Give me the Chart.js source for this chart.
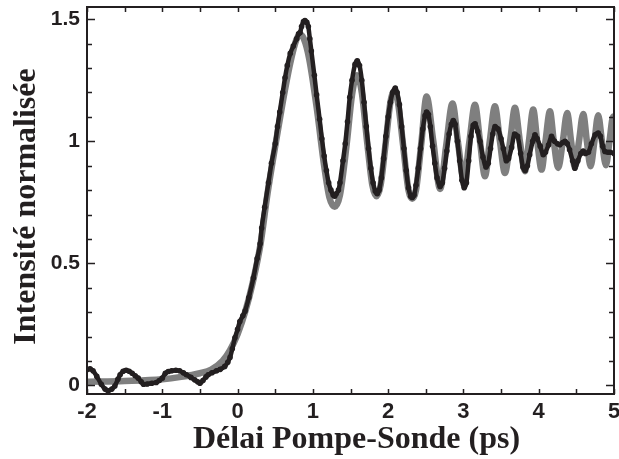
<!DOCTYPE html>
<html>
<head>
<meta charset="utf-8">
<title>Intensité normalisée</title>
<script src="https://cdn.jsdelivr.net/npm/chart.js@4.4.1/dist/chart.umd.min.js"></script>
<style>
  body { margin: 0; background: #fff; }
</style>
</head>
<body>
<canvas id="pumpProbeChart" width="619" height="459"></canvas>
<script>
const dataT = [-2.00, -1.96, -1.92, -1.87, -1.81, -1.76, -1.72, -1.67, -1.63, -1.59, -1.56, -1.52, -1.48, -1.44, -1.40,
  -1.36, -1.32, -1.28, -1.25, -1.20, -1.14, -1.08, -1.04, -1.00, -0.96, -0.92, -0.875, -0.82, -0.77, -0.72,
  -0.68, -0.62, -0.57, -0.53, -0.50, -0.46, -0.42, -0.39, -0.34, -0.28, -0.23, -0.17, -0.13, -0.10, -0.07,
  -0.035, 0.00, 0.03, 0.07, 0.10, 0.15, 0.21, 0.26, 0.30, 0.32, 0.36, 0.41, 0.45, 0.50, 0.53,
  0.56, 0.60, 0.63, 0.66, 0.70, 0.74, 0.785, 0.81, 0.83, 0.85, 0.875, 0.895, 0.92, 0.94, 0.96,
  0.98, 1.02, 1.05, 1.09, 1.12, 1.15, 1.18, 1.21, 1.24, 1.27, 1.29, 1.31, 1.34, 1.36, 1.40,
  1.43, 1.46, 1.49, 1.52, 1.56, 1.59, 1.62, 1.65, 1.68, 1.71, 1.74, 1.77, 1.80, 1.83, 1.855,
  1.88, 1.91, 1.94, 1.97, 2.00, 2.03, 2.06, 2.095, 2.12, 2.15, 2.18, 2.21, 2.24, 2.27, 2.30,
  2.32, 2.345, 2.37, 2.40, 2.43, 2.46, 2.49, 2.51, 2.535, 2.56, 2.59, 2.62, 2.65, 2.69, 2.72,
  2.75, 2.78, 2.81, 2.84, 2.865, 2.89, 2.92, 2.95, 2.98, 3.01, 3.04, 3.07, 3.10, 3.13, 3.155,
  3.19, 3.22, 3.26, 3.30, 3.33, 3.36, 3.39, 3.42, 3.46, 3.50, 3.53, 3.57, 3.60, 3.64, 3.68,
  3.72, 3.76, 3.79, 3.82, 3.85, 3.88, 3.92, 3.95, 3.98, 4.02, 4.06, 4.09, 4.13, 4.17, 4.21,
  4.25, 4.28, 4.32, 4.35, 4.38, 4.41, 4.45, 4.48, 4.52, 4.56, 4.59, 4.62, 4.66, 4.70, 4.75,
  4.79, 4.82, 4.85, 4.88, 4.92, 4.95, 5.00, 5.03];
const dataI = [0.065, 0.068, 0.060, 0.037, 0.005, -0.015, -0.022, -0.015, -0.002, 0.025, 0.044, 0.058, 0.062, 0.058, 0.050,
  0.040, 0.030, 0.015, 0.005, 0.006, 0.009, 0.012, 0.020, 0.030, 0.050, 0.057, 0.060, 0.062, 0.060, 0.052,
  0.044, 0.033, 0.023, 0.015, 0.009, 0.020, 0.035, 0.044, 0.052, 0.060, 0.066, 0.078, 0.095, 0.115, 0.150,
  0.195, 0.230, 0.262, 0.285, 0.305, 0.360, 0.440, 0.520, 0.580, 0.645, 0.730, 0.830, 0.910, 0.990, 1.060,
  1.120, 1.200, 1.260, 1.310, 1.360, 1.390, 1.420, 1.440, 1.445, 1.470, 1.490, 1.495, 1.487, 1.470, 1.420,
  1.370, 1.270, 1.190, 1.090, 1.010, 0.940, 0.880, 0.830, 0.800, 0.780, 0.775, 0.785, 0.800, 0.830, 0.920,
  0.990, 1.080, 1.180, 1.250, 1.315, 1.330, 1.310, 1.250, 1.160, 1.060, 0.970, 0.890, 0.830, 0.795, 0.785,
  0.800, 0.850, 0.930, 1.020, 1.100, 1.160, 1.200, 1.218, 1.200, 1.150, 1.060, 0.970, 0.880, 0.810, 0.775,
  0.770, 0.780, 0.820, 0.890, 0.970, 1.050, 1.105, 1.120, 1.110, 1.060, 0.980, 0.910, 0.850, 0.815, 0.830,
  0.890, 0.960, 1.030, 1.070, 1.085, 1.070, 1.000, 0.920, 0.840, 0.810, 0.830, 0.920, 1.020, 1.065, 1.072,
  1.040, 1.000, 0.935, 0.895, 0.910, 0.970, 1.030, 1.060, 1.050, 1.010, 0.970, 0.920, 0.930, 0.975, 1.030,
  1.020, 0.950, 0.895, 0.880, 0.900, 0.945, 1.000, 1.027, 1.010, 0.980, 0.945, 0.955, 0.985, 1.020, 1.000,
  0.990, 0.986, 0.995, 1.000, 0.990, 0.965, 0.920, 0.890, 0.920, 0.950, 0.960, 0.950, 0.955, 0.990, 1.027,
  1.034, 1.020, 0.980, 0.958, 0.955, 0.955, 0.950, 0.945];

// fitted curve (grey) at its turning points
const fitT = [-2.00, -1.50, -1.00, -0.75, -0.50, -0.35, -0.20, -0.10, 0.00, 0.10, 0.20, 0.30, 0.40, 0.50, 0.60,
  0.70, 0.78, 0.83, 0.88, 0.95, 1.05, 1.15, 1.22, 1.29, 1.36, 1.45, 1.52, 1.585, 1.65, 1.72,
  1.79, 1.845, 1.90, 1.97, 2.03, 2.08, 2.13, 2.20, 2.27, 2.32, 2.37, 2.44, 2.51, 2.60, 2.69,
  2.77, 2.855, 2.93, 3.005, 3.08, 3.153, 3.22, 3.286, 3.35, 3.418, 3.485, 3.551, 3.62, 3.684, 3.75,
  3.817, 3.87, 3.927, 3.98, 4.038, 4.09, 4.149, 4.20, 4.259, 4.32, 4.378, 4.43, 4.481, 4.535, 4.591,
  4.64, 4.689, 4.74, 4.790, 4.84, 4.893, 4.94, 4.990, 5.03];
const fitI = [0.015, 0.018, 0.025, 0.035, 0.050, 0.065, 0.100, 0.145, 0.210, 0.300, 0.420, 0.570, 0.790, 0.980, 1.160,
  1.320, 1.415, 1.437, 1.420, 1.340, 1.140, 0.900, 0.770, 0.732, 0.780, 0.990, 1.190, 1.270, 1.200, 1.000,
  0.820, 0.775, 0.820, 1.000, 1.160, 1.205, 1.160, 0.980, 0.800, 0.765, 0.800, 0.990, 1.183, 1.000, 0.805,
  0.980, 1.155, 0.990, 0.845, 1.000, 1.150, 1.000, 0.857, 1.000, 1.143, 1.000, 0.870, 1.000, 1.137, 1.000,
  0.877, 1.000, 1.130, 1.000, 0.884, 1.000, 1.123, 1.000, 0.891, 1.000, 1.116, 1.000, 0.893, 1.000, 1.112,
  1.000, 0.898, 1.000, 1.107, 1.000, 0.902, 1.000, 1.102, 1.040];

// axis ticks and titles
const xTickValues = [-2, -1, 0, 1, 2, 3, 4, 5];
const xTickLabels = ['-2', '-1', '0', '1', '2', '3', '4', '5'];
const yTickValues = [0, 0.5, 1, 1.5];
const yTickLabels = ['0', '0.5', '1', '1.5'];
const xTitle = 'Délai Pompe-Sonde (ps)';
const yTitle = 'Intensité normalisée';

const inkColor = '#231f20';
const fitColor = '#7f7f7f';
const titleFont = 'bold 32px "Liberation Serif", "Times New Roman", serif';

const measured = dataT.map((t, i) => ({ x: t, y: dataI[i] }));
const fitted = fitT.map((t, i) => ({ x: t, y: fitI[i] }));

// frame around the plot with inward ticks on all four sides, plus axis titles
const frameTicks = {
  id: 'frameTicks',
  afterDatasetsDraw(chart) {
    const { ctx, chartArea: a, scales: { x, y } } = chart;
    ctx.save();
    ctx.strokeStyle = inkColor;
    ctx.lineWidth = 1.5;
    ctx.beginPath();
    for (let v = -2; v <= 5.0001; v += 0.5) {
      const px = Math.round(x.getPixelForValue(v)) + 0.5;
      ctx.moveTo(px, a.bottom); ctx.lineTo(px, a.bottom - 5);
      ctx.moveTo(px, a.top); ctx.lineTo(px, a.top + 5);
    }
    for (let k = 0; k <= 15; k++) {
      const py = Math.round(y.getPixelForValue(k / 10)) + 0.5;
      const len = (k % 5 === 0) ? 8 : 5;
      ctx.moveTo(a.left, py); ctx.lineTo(a.left + len, py);
      ctx.moveTo(a.right, py); ctx.lineTo(a.right - len, py);
    }
    ctx.stroke();
    ctx.lineWidth = 2;
    ctx.strokeRect(a.left, a.top, a.right - a.left, a.bottom - a.top);

    // titles
    ctx.fillStyle = inkColor;
    ctx.font = titleFont;
    ctx.textAlign = 'center';
    ctx.textBaseline = 'middle';
    ctx.fillText(xTitle, (a.left + a.right) / 2 + 6, 440);
    ctx.translate(27, (a.top + a.bottom) / 2 + 6);
    ctx.rotate(-Math.PI / 2);
    ctx.fillText(yTitle, 0, 0);
    ctx.restore();
  }
};

const ctx = document.getElementById('pumpProbeChart').getContext('2d');
const pumpProbeChart = new Chart(ctx, {
  type: 'line',
  data: {
    datasets: [{
      label: 'Mesure',
      data: measured,
      borderColor: inkColor,
      backgroundColor: inkColor,
      borderWidth: 4.5,
      pointRadius: 2.8,
      pointBorderWidth: 0,
      cubicInterpolationMode: 'monotone',
      order: 0
    },
    {
      label: 'Ajustement',
      data: fitted,
      borderColor: fitColor,
      borderWidth: 6.5,
      pointRadius: 0,
      cubicInterpolationMode: 'monotone',
      order: 1
    }]
  },
  plugins: [frameTicks],
  options: {
    responsive: false,
    animation: false,
    devicePixelRatio: 1,
    layout: { padding: { top: 7, right: 5, left: 0, bottom: 0 } },
    plugins: {
      legend: { display: false },
      tooltip: { enabled: false }
    },
    scales: {
      x: {
        type: 'linear',
        min: -2,
        max: 5,
        grid: { display: false, drawTicks: false },
        border: { display: false },
        afterBuildTicks: s => { s.ticks = xTickValues.map(v => ({ value: v })); },
        afterFit: s => { s.height = 65; s.paddingLeft = 0; s.paddingRight = 0; },
        ticks: {
          color: inkColor,
          padding: 5,
          maxRotation: 0,
          autoSkip: false,
          font: { family: '"Liberation Sans", Arial, sans-serif', size: 22, weight: 'bold' },
          callback: v => xTickLabels[xTickValues.indexOf(v)]
        }
      },
      y: {
        type: 'linear',
        min: -0.035,
        max: 1.55,
        grid: { display: false, drawTicks: false },
        border: { display: false },
        afterBuildTicks: s => { s.ticks = yTickValues.map(v => ({ value: v })); },
        afterFit: s => { s.width = 87; s.paddingTop = 0; s.paddingBottom = 0; },
        ticks: {
          color: inkColor,
          padding: 7,
          autoSkip: false,
          font: { family: '"Liberation Sans", Arial, sans-serif', size: 21, weight: 'bold' },
          callback: v => yTickLabels[yTickValues.indexOf(v)]
        }
      }
    }
  }
});
</script>
</body>
</html>
